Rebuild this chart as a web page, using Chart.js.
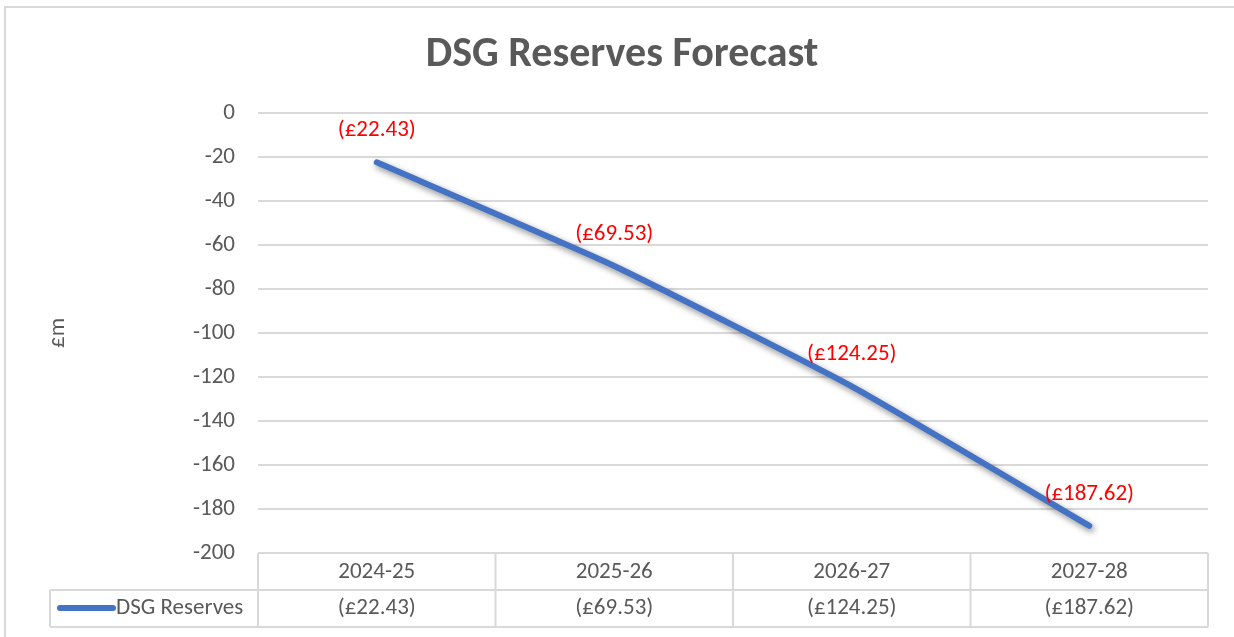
<!DOCTYPE html>
<html>
<head>
<meta charset="utf-8">
<title>DSG Reserves Forecast</title>
<script src="https://cdn.jsdelivr.net/npm/chart.js@4.4.1/dist/chart.umd.min.js"></script>
<style>
  html, body { margin: 0; padding: 0; background: #fff; }
  #wrap { width: 1234px; height: 637px; position: relative; }
</style>
</head>
<body>
<div id="wrap"><canvas id="myChart"></canvas></div>
<script>
const categories = ["2024-25", "2025-26", "2026-27", "2027-28"];
const reserves = [-22.43, -69.53, -124.25, -187.62];
const seriesName = "DSG Reserves";
const yMin = -200;
const yMax = 0;
const yStep = 20;

const fontFamily = "Carlito, Lato, 'Open Sans', sans-serif";
const textGrey = "#595959";
const lineGrey = "#d9d9d9";
const lineBlue = "#4472C4";
const textSize = 23;

// money format like Excel: (£22.43)
const fmt = (v) => (v < 0 ? `(£${Math.abs(v).toFixed(2)})` : `£${v.toFixed(2)}`);

// soft shadow under the line, like the Office style
const lineShadow = {
    id: "lineShadow",
    beforeDatasetDraw(chart) {
        const ctx = chart.ctx;
        ctx.save();
        ctx.shadowColor = "rgba(0,0,0,0.45)";
        ctx.shadowBlur = 6;
        ctx.shadowOffsetX = 2;
        ctx.shadowOffsetY = 3;
    },
    afterDatasetDraw(chart) {
        chart.ctx.restore();
    },
};

// red value labels above each point
const valueLabels = {
    id: "valueLabels",
    afterDatasetsDraw(chart) {
        const ctx = chart.ctx;
        const meta = chart.getDatasetMeta(0);
        ctx.save();
        ctx.font = `${textSize}px ${fontFamily}`;
        ctx.fillStyle = "#ff0000";
        ctx.textAlign = "center";
        ctx.textBaseline = "middle";
        meta.data.forEach((pt, i) => {
            ctx.fillText(fmt(reserves[i]), pt.x, pt.y - 32);
        });
        ctx.restore();
    },
};

// data table under the plot + outer frame
const dataTable = {
    id: "dataTable",
    afterDraw(chart) {
        const ctx = chart.ctx;
        const x = chart.scales.x;
        const area = chart.chartArea;
        const top = area.bottom;
        const mid = top + 37;
        const bottom = top + 74;
        const legendLeft = 50;
        const colW = (x.right - x.left) / categories.length;

        ctx.save();
        ctx.strokeStyle = lineGrey;
        ctx.lineWidth = 2;

        // outer chart frame (left + top only are visible)
        ctx.beginPath();
        ctx.moveTo(5, 637);
        ctx.lineTo(5, 7);
        ctx.lineTo(1234, 7);
        ctx.stroke();

        ctx.beginPath();
        ctx.moveTo(x.left, top);
        ctx.lineTo(x.right, top);
        ctx.moveTo(legendLeft, mid);
        ctx.lineTo(x.right, mid);
        ctx.moveTo(legendLeft, bottom);
        ctx.lineTo(x.right, bottom);
        ctx.moveTo(legendLeft, mid);
        ctx.lineTo(legendLeft, bottom);
        for (let i = 0; i <= categories.length; i++) {
            const cx = x.left + i * colW;
            ctx.moveTo(cx, top);
            ctx.lineTo(cx, bottom);
        }
        ctx.stroke();

        // legend key in the first cell
        ctx.strokeStyle = lineBlue;
        ctx.lineWidth = 6;
        ctx.lineCap = "round";
        ctx.beginPath();
        ctx.moveTo(60, mid + 18);
        ctx.lineTo(113, mid + 18);
        ctx.stroke();

        ctx.font = `${textSize}px ${fontFamily}`;
        ctx.fillStyle = textGrey;
        ctx.textBaseline = "middle";
        ctx.textAlign = "left";
        ctx.fillText(seriesName, 116, mid + 18);

        ctx.textAlign = "center";
        reserves.forEach((v, i) => {
            ctx.fillText(fmt(v), x.getPixelForValue(i), mid + 18);
        });
        ctx.restore();
    },
};

var canvas = document.getElementById("myChart");
var ctx = canvas.getContext("2d");

let data = {
    labels: categories,
    datasets: [
        {
            label: seriesName,
            data: reserves,
            borderColor: lineBlue,
            borderWidth: 6,
            borderCapStyle: "round",
            borderJoinStyle: "round",
            pointRadius: 0,
            pointHoverRadius: 0,
            tension: 0.15,
            fill: false,
        },
    ],
};

const options = {
    responsive: true,
    maintainAspectRatio: false,
    animation: false,
    layout: {
        padding: { top: 0, left: 36, right: 26, bottom: 0 },
    },
    plugins: {
        legend: { display: false },
        tooltip: { enabled: false },
        title: {
            display: true,
            text: "DSG Reserves Forecast",
            color: textGrey,
            font: { family: fontFamily, size: 42, weight: "bold" },
            padding: { top: 30, bottom: 32.6 },
        },
    },
    scales: {
        x: {
            offset: true,
            grid: { display: false, drawTicks: false },
            border: { display: false },
            ticks: {
                color: textGrey,
                font: { family: fontFamily, size: textSize },
                padding: 5,
                maxRotation: 0,
            },
            afterFit(scale) {
                scale.height = 84;
            },
        },
        y: {
            min: yMin,
            max: yMax,
            grid: { color: lineGrey, lineWidth: 2, drawTicks: false },
            border: { display: false },
            ticks: {
                stepSize: yStep,
                color: textGrey,
                font: { family: fontFamily, size: textSize },
                padding: 23,
            },
            title: {
                display: true,
                text: "£m",
                color: textGrey,
                font: { family: fontFamily, size: textSize },
                padding: { top: 8, bottom: 0 },
            },
            afterFit(scale) {
                scale.width = 222;
            },
        },
    },
};

var myChart = new Chart(ctx, {
    type: "line",
    data: data,
    options: options,
    plugins: [lineShadow, valueLabels, dataTable],
});
</script>
</body>
</html>
